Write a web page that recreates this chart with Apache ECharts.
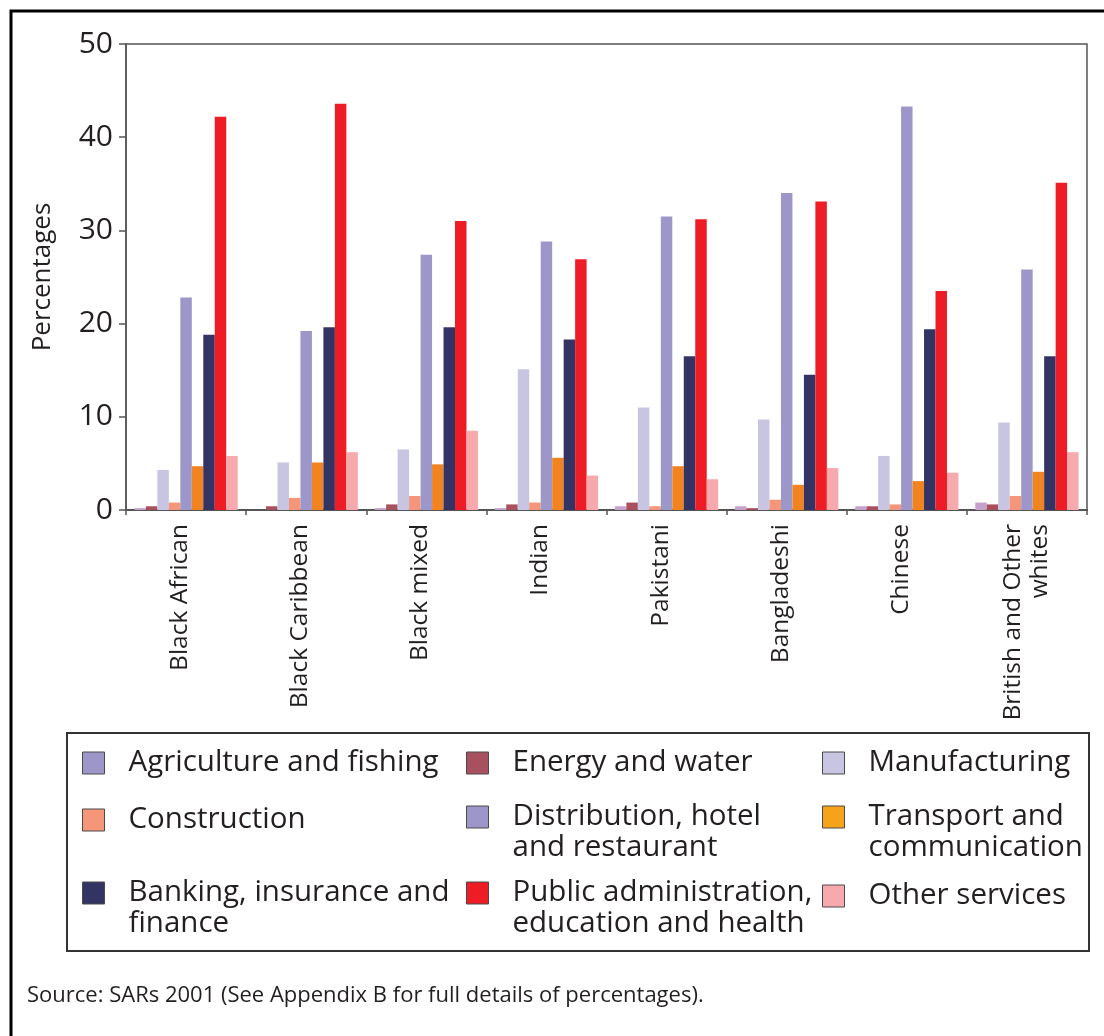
<!DOCTYPE html>
<html>
<head>
<meta charset="utf-8">
<title>Employment by industry and ethnic group</title>
<script src="https://cdn.jsdelivr.net/npm/echarts@6/dist/echarts.min.js"></script>
<style>
  html, body { margin: 0; padding: 0; background: #ffffff; }
  #chart { width: 1104px; height: 1036px; }
</style>
</head>
<body>
<div id="chart"></div>
<script>
// Ethnic groups along the x axis
const groups = ['Black African', 'Black Caribbean', 'Black mixed', 'Indian', 'Pakistani',
  'Bangladeshi', 'Chinese', 'British and Other\nwhites'];

// Industry sectors (legend labels, line breaks as printed)
const sectors = ['Agriculture and fishing', 'Energy and water', 'Manufacturing',
  'Construction', 'Distribution, hotel\nand restaurant', 'Transport and\ncommunication',
  'Banking, insurance and\nfinance', 'Public administration,\neducation and health', 'Other services'];

// Percentage employed in each sector, one value per ethnic group
const agriculture   = [0.2, 0.0, 0.2, 0.2, 0.4, 0.4, 0.4, 0.8];
const energy        = [0.4, 0.4, 0.6, 0.6, 0.8, 0.2, 0.4, 0.6];
const manufacturing = [4.3, 5.1, 6.5, 15.1, 11.0, 9.7, 5.8, 9.4];
const construction  = [0.8, 1.3, 1.5, 0.8, 0.4, 1.1, 0.6, 1.5];
const distribution  = [22.8, 19.2, 27.4, 28.8, 31.5, 34.0, 43.3, 25.8];
const transport     = [4.7, 5.1, 4.9, 5.6, 4.7, 2.7, 3.1, 4.1];
const banking       = [18.8, 19.6, 19.6, 18.3, 16.5, 14.5, 19.4, 16.5];
const publicAdmin   = [42.2, 43.6, 31.0, 26.9, 31.2, 33.1, 23.5, 35.1];
const otherServices = [5.8, 6.2, 8.5, 3.7, 3.3, 4.5, 4.0, 6.2];

// Y axis ticks
const yTicks = [0, 10, 20, 30, 40, 50];

const sectorValues = [agriculture, energy, manufacturing, construction, distribution,
  transport, banking, publicAdmin, otherServices];

// Styling
const FONT = '"Open Sans", "Noto Sans", sans-serif';
const INK = '#231f20';
const barColors = ['#c6a1cb', '#a8505e', '#c8c5e2', '#f5957a', '#9d97c9',
  '#f28321', '#333463', '#ee1c25', '#f6aaae'];
const swatchColors = ['#9d97c9', '#a8505e', '#c8c5e2', '#f5957a', '#9d97c9',
  '#f7a21b', '#333463', '#ee1c25', '#f6aaae'];

// Legend layout: three columns, three rows inside a framed box
const legendColX = [82, 466, 822];
const legendRowY = [760, 817, 893];
const LH = 31;

const legends = sectors.map((name, i) => {
  const lines = name.split('\n').length;
  const col = i % 3, row = Math.floor(i / 3);
  return {
    show: true,
    selectedMode: false,
    left: legendColX[col],
    // two-line names get a blank leading line so the swatch sits beside the first line
    top: lines === 2 ? legendRowY[row] - 1.5 * LH : legendRowY[row] - 12.5,
    padding: 0,
    itemWidth: 22,
    itemHeight: 22,
    icon: 'rect',
    formatter: (n) => (n.indexOf('\n') >= 0 ? ' \n' + n : n),
    data: [{
      name: name,
      itemStyle: { color: swatchColors[i], borderColor: '#4a4a4a', borderWidth: 1 }
    }],
    textStyle: {
      fontFamily: FONT,
      fontSize: 29.5,
      lineHeight: LH,
      color: INK,
      padding: [0, 0, 0, 19]
    }
  };
});

const series = sectors.map((name, i) => ({
  name: name,
  type: 'bar',
  data: sectorValues[i],
  barGap: '0%',
  barCategoryGap: '14%',
  itemStyle: { color: barColors[i] },
  emphasis: { disabled: true }
}));

const chart = echarts.init(document.getElementById('chart'), null, { renderer: 'canvas' });

chart.setOption({
  backgroundColor: '#ffffff',
  animation: false,
  grid: {
    left: 126, top: 44, right: 17, bottom: 526,
    show: true, borderColor: '#555555', borderWidth: 1.5, containLabel: false
  },
  xAxis: {
    type: 'category',
    data: groups,
    axisLine: { show: true, lineStyle: { color: '#555555', width: 2 } },
    axisTick: { show: true, inside: false, length: 5, lineStyle: { color: '#555555', width: 1.5 } },
    axisLabel: {
      rotate: 90, margin: 14, interval: 0,
      fontFamily: FONT, fontSize: 24.5, lineHeight: 27, color: INK,
      // single-line names carry a short spacer line, setting them just left of the tick centre
      formatter: (v) => (v.indexOf('\n') >= 0 ? v : '{t|' + v + '}\n{s| }'),
      rich: {
        t: { fontFamily: FONT, fontSize: 24.5, lineHeight: 27, color: INK },
        s: { fontSize: 8, lineHeight: 12 }
      }
    }
  },
  yAxis: {
    type: 'value',
    min: yTicks[0],
    max: yTicks[yTicks.length - 1],
    interval: yTicks[1] - yTicks[0],
    name: 'Percentages',
    nameLocation: 'middle',
    nameRotate: 90,
    nameGap: 70,
    nameTextStyle: { fontFamily: FONT, fontSize: 26, color: INK },
    splitLine: { show: false },
    axisLine: { show: true, lineStyle: { color: '#555555', width: 1.5 } },
    axisTick: { show: true, inside: false, length: 7, lineStyle: { color: '#555555', width: 1.5 } },
    axisLabel: { margin: 13, fontFamily: FONT, fontSize: 30, color: INK }
  },
  legend: legends,
  series: series,
  graphic: [
    {
      type: 'polyline',
      shape: { points: [[11, 1036], [11, 11], [1104, 11]] },
      style: { stroke: '#000000', lineWidth: 3, fill: null },
      silent: true
    },
    {
      type: 'rect',
      shape: { x: 67, y: 733, width: 1022, height: 218 },
      style: { stroke: '#333333', lineWidth: 2, fill: null },
      silent: true
    },
    {
      type: 'text',
      left: 27,
      top: 985,
      style: {
        text: 'Source: SARs 2001 (See Appendix B for full details of percentages).',
        fontFamily: FONT, fontSize: 22, fill: INK
      },
      silent: true
    }
  ]
});
</script>
</body>
</html>
